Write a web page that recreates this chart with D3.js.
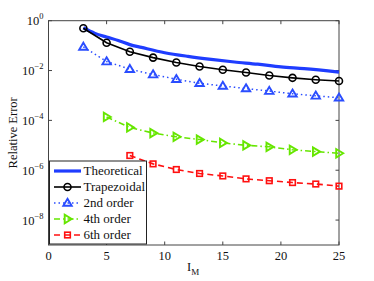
<!DOCTYPE html>
<html>
<head>
<meta charset="utf-8">
<script src="https://cdn.jsdelivr.net/npm/d3@7"></script>
<style>
  body { margin: 0; background: #fff; }
  svg { display: block; font-family: "Liberation Serif", "Times New Roman", serif; }
</style>
</head>
<body>
<svg id="chart" width="374" height="281"></svg>
<script>
// values
const theoX = [3, 4, 5, 6, 7, 8, 10, 12, 14, 16, 18, 20, 22, 25];
const theoY = [0.52, 0.31, 0.22, 0.16, 0.11, 0.085, 0.052, 0.037, 0.028, 0.022, 0.018, 0.014, 0.012, 0.0087];

const trapX = [3, 5, 7, 9, 11, 13, 15, 17, 19, 21, 23, 25];
const trapY = [0.5, 0.13, 0.057, 0.033, 0.021, 0.0145, 0.0107, 0.0083, 0.0063, 0.0051, 0.0043, 0.0038];

const ord2X = [3, 5, 7, 9, 11, 13, 15, 17, 19, 21, 23, 25];
const ord2Y = [0.089, 0.023, 0.0114, 0.0069, 0.0045, 0.0031, 0.0024, 0.0019, 0.0015, 0.00117, 0.00097, 0.00081];

const ord4X = [5, 7, 9, 11, 13, 15, 17, 19, 21, 23, 25];
const ord4Y = [1.37e-4, 5.2e-5, 3.1e-5, 2.2e-5, 1.7e-5, 1.25e-5, 1.0e-5, 8.7e-6, 6.6e-6, 5.6e-6, 4.8e-6];

const ord6X = [7, 9, 11, 13, 15, 17, 19, 21, 23, 25];
const ord6Y = [3.9e-6, 1.8e-6, 1.07e-6, 7.4e-7, 5.9e-7, 4.5e-7, 3.8e-7, 3.2e-7, 2.8e-7, 2.3e-7];

const xTicks = [0, 5, 10, 15, 20, 25];
const yTickExp = [0, -2, -4, -6, -8];
const legendNames = ["Theoretical", "Trapezoidal", "2nd order", "4th order", "6th order"];

const margin = { left: 48.5, right: 35, top: 20.7, bottom: 36 };
const W = 374, H = 281;
const svg = d3.select("#chart");

const x = d3.scaleLinear().domain([0, 25]).range([margin.left, W - margin.right]);
const y = d3.scaleLog().domain([1e-9, 1]).range([H - margin.bottom, margin.top]);

const series = [
  { name: legendNames[0], xs: theoX, ys: theoY, color: "#1f3dff", width: 3.2, dash: null, marker: null },
  { name: legendNames[1], xs: trapX, ys: trapY, color: "#000", width: 1.6, dash: null, marker: "circle" },
  { name: legendNames[2], xs: ord2X, ys: ord2Y, color: "#2a4dff", width: 1.5, dash: "1.5,3", marker: "tri-up" },
  { name: legendNames[3], xs: ord4X, ys: ord4Y, color: "#66e600", width: 1.6, dash: "6,3,1.5,3", marker: "tri-right" },
  { name: legendNames[4], xs: ord6X, ys: ord6Y, color: "#ff1010", width: 1.6, dash: "6,4", marker: "square" }
];

// axes box
const x0 = x.range()[0], x1 = x.range()[1], y0 = y.range()[0], y1 = y.range()[1];
svg.append("rect")
  .attr("x", x0).attr("y", y1)
  .attr("width", x1 - x0).attr("height", y0 - y1)
  .attr("fill", "none").attr("stroke", "#444").attr("stroke-width", 1);

// inward ticks on all four sides
const tickLen = 3.5;
const tk = svg.append("g").attr("stroke", "#444").attr("stroke-width", 1);
xTicks.forEach(v => {
  tk.append("line").attr("x1", x(v)).attr("x2", x(v)).attr("y1", y0).attr("y2", y0 - tickLen);
  tk.append("line").attr("x1", x(v)).attr("x2", x(v)).attr("y1", y1).attr("y2", y1 + tickLen);
});
yTickExp.forEach(e => {
  const v = Math.pow(10, e);
  tk.append("line").attr("x1", x0).attr("x2", x0 + tickLen).attr("y1", y(v)).attr("y2", y(v));
  tk.append("line").attr("x1", x1).attr("x2", x1 - tickLen).attr("y1", y(v)).attr("y2", y(v));
});

// tick labels
svg.append("g").selectAll("text")
  .data(xTicks).enter().append("text")
  .attr("x", d => x(d)).attr("y", y0 + 15)
  .attr("text-anchor", "middle").attr("font-size", 12.5).attr("fill", "#111")
  .text(d => d);

const yl = svg.append("g").selectAll("text")
  .data(yTickExp).enter().append("text")
  .attr("x", x0 - 5).attr("y", d => y(Math.pow(10, d)) + 4.5)
  .attr("text-anchor", "end").attr("font-size", 12.5).attr("fill", "#111");
yl.append("tspan").text("10");
yl.append("tspan").attr("dy", -6).attr("font-size", 8.5).text(d => d === 0 ? "0" : "\u2212" + (-d));

// axis titles
svg.append("text")
  .attr("transform", `translate(17,${(y0 + y1) / 2}) rotate(-90)`)
  .attr("text-anchor", "middle").attr("font-size", 12.5).attr("fill", "#111")
  .text("Relative Error");

const xt = svg.append("text")
  .attr("x", 187).attr("y", 271)
  .attr("font-size", 12.5).attr("fill", "#111");
xt.append("tspan").text("I");
xt.append("tspan").attr("dy", 3.5).attr("font-size", 9).text("M");

// marker drawing
function drawMarker(g, type, color) {
  if (type === "circle") {
    g.append("circle").attr("r", 3.5)
      .attr("fill", "none").attr("stroke", color).attr("stroke-width", 1.6);
  } else if (type === "tri-up") {
    g.append("path").attr("d", "M0,-4.2L4.2,2.8L-4.2,2.8Z")
      .attr("fill", "none").attr("stroke", color).attr("stroke-width", 1.9);
  } else if (type === "tri-right") {
    g.append("path").attr("d", "M4.2,0L-2.8,4.2L-2.8,-4.2Z")
      .attr("fill", "none").attr("stroke", color).attr("stroke-width", 1.9);
  } else if (type === "square") {
    g.append("rect").attr("x", -2.8).attr("y", -2.8).attr("width", 5.6).attr("height", 5.6)
      .attr("fill", "none").attr("stroke", color).attr("stroke-width", 1.6);
  }
}

const line = d3.line().x(d => x(d[0])).y(d => y(d[1]));
const smooth = d3.line().x(d => x(d[0])).y(d => y(d[1])).curve(d3.curveMonotoneX);
const plot = svg.append("g");

series.forEach(s => {
  const pts = s.xs.map((v, i) => [v, s.ys[i]]);
  plot.append("path")
    .datum(pts)
    .attr("d", s.marker ? line : smooth)
    .attr("fill", "none")
    .attr("stroke", s.color)
    .attr("stroke-width", s.width)
    .attr("stroke-dasharray", s.dash);
  if (s.marker) {
    plot.selectAll(null).data(pts).enter().append("g")
      .attr("transform", d => `translate(${x(d[0])},${y(d[1])})`)
      .each(function () { drawMarker(d3.select(this), s.marker, s.color); });
  }
});

// legend
const lg = svg.append("g").attr("transform", "translate(49.5,161)");
lg.append("rect").attr("width", 97).attr("height", 83)
  .attr("fill", "#fff").attr("stroke", "#222").attr("stroke-width", 1);
series.forEach((s, i) => {
  const ly = 10 + i * 16;
  lg.append("line").attr("x1", 4.5).attr("x2", 31.5).attr("y1", ly).attr("y2", ly)
    .attr("stroke", s.color).attr("stroke-width", s.width)
    .attr("stroke-dasharray", s.dash);
  if (s.marker) {
    const m = lg.append("g").attr("transform", `translate(18,${ly})`);
    drawMarker(m, s.marker, s.color);
  }
  lg.append("text").attr("x", 34).attr("y", ly + 4.3)
    .attr("font-size", 13).attr("fill", "#111").text(s.name);
});
</script>
</body>
</html>
